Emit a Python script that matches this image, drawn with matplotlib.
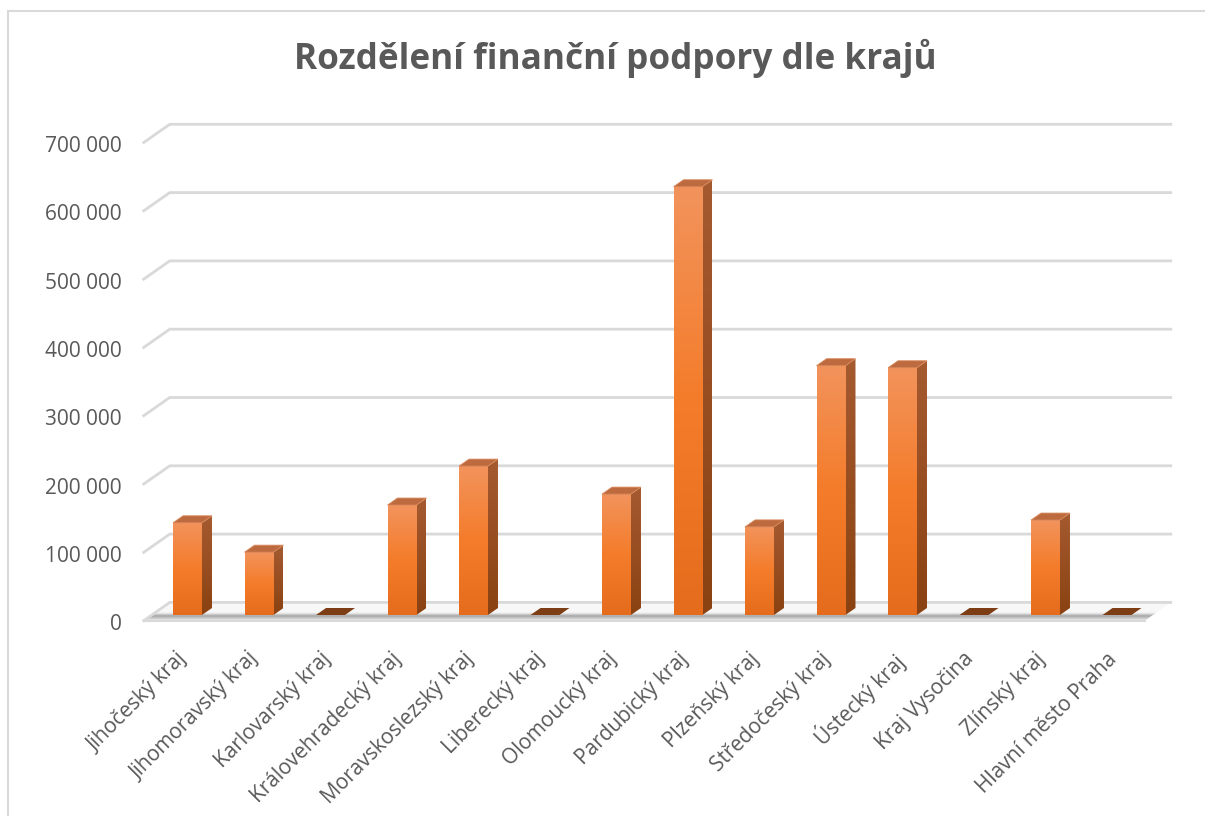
import numpy as np
import matplotlib.pyplot as plt
from matplotlib.patches import Polygon, Rectangle
from matplotlib.colors import LinearSegmentedColormap

regions = ["Jihočeský kraj", "Jihomoravský kraj", "Karlovarský kraj",
           "Královehradecký kraj", "Moravskoslezský kraj", "Liberecký kraj",
           "Olomoucký kraj", "Pardubický kraj", "Plzeňský kraj",
           "Středočeský kraj", "Ústecký kraj", "Kraj Vysočina",
           "Zlínský kraj", "Hlavní město Praha"]
support = [135000, 92000, 0, 161000, 218000, 0, 177000, 627000,
           129000, 365000, 362000, 0, 139000, 0]
y_ticks = [0, 100000, 200000, 300000, 400000, 500000, 600000, 700000]
title = "Rozdělení finanční podpory dle krajů"

W, H = 1205, 816
fig = plt.figure(figsize=(W / 100, H / 100), dpi=100)

# pixel <-> data scale (bar front plane)
PX_X = 71.5           # px per category
PX_Y = 68.3 / 100000  # px per unit value
dx = 1 / PX_X
dy = 1 / PX_Y
xlim = (-1.2, 14.0)
ylim = (-40000, 740000)
x0_px = 187.5 + xlim[0] * PX_X
zero_px = H - 615
ax = fig.add_axes([x0_px / W, (zero_px + ylim[0] * PX_Y) / H,
                   (xlim[1] - xlim[0]) * PX_X / W, (ylim[1] - ylim[0]) * PX_Y / H])
ax.set_axis_off()


def shift(x, y, depth):
    # move a point back into the chart depth (depth in px)
    return x + depth * dx, y + depth * 0.7 * dy


x_left, x_right = -0.5, 13.5
grid_c = "#d9d9d9"

# floor
floor = [shift(x_left, 0, -8), shift(x_right, 0, -8), shift(x_right, 0, 18), shift(x_left, 0, 18)]
ax.add_patch(Polygon(floor, closed=True, fc="#f7f7f7", ec="none", zorder=1))
shades = ["#e6e6e6", "#d0d0d0", "#b8b8b8", "#a8a8a8", "#b0b0b0", "#c8c8c8", "#e0e0e0"]
for k, c in enumerate(shades):
    d0, d1 = -8 + k * 1.6, -8 + (k + 1) * 1.6
    band = [shift(x_left, 0, d0), shift(x_right, 0, d0), shift(x_right, 0, d1), shift(x_left, 0, d1)]
    ax.add_patch(Polygon(band, closed=True, fc=c, ec="none", zorder=1.1))
fx = [shift(x_left, 0, -8)[0], shift(x_right, 0, -8)[0]]
fy = shift(x_left, 0, -8)[1]
ax.plot(fx, [fy, fy], color=grid_c, lw=1.5, zorder=1.2)

# gridlines on left and back wall
for v in y_ticks:
    pts = [shift(x_left, v, -8), shift(x_left, v, 18), shift(x_right, v, 18)]
    ax.plot([p[0] for p in pts], [p[1] for p in pts], color=grid_c, lw=2, zorder=1.5,
            solid_joinstyle="miter")
    lx, ly = shift(x_left, v, -8)
    ax.text(lx - 22 * dx, ly - 4 * dy, f"{v:,}".replace(",", " "), ha="right", va="center",
            fontsize=15, color="#595959", family="Open Sans")

# bars
bw = 0.405
bd = 10
front_cmap = LinearSegmentedColormap.from_list("front", ["#e56c1c", "#f47c2a", "#f2935c"])
side_cmap = LinearSegmentedColormap.from_list("side", ["#8a4212", "#a55a30"])
grad = np.linspace(0, 1, 200).reshape(-1, 1)
for i, v in enumerate(support):
    xa, xb = i - bw / 2, i + bw / 2
    if v > 0:
        ax.imshow(grad, extent=[xa, xb, 0, v], origin="lower", cmap=front_cmap,
                  aspect="auto", zorder=3, interpolation="bilinear")
        side = [(xb, 0), (xb, v), shift(xb, v, bd), shift(xb, 0, bd)]
        sp = Polygon(side, closed=True, fc="none", ec="none", zorder=2.9)
        ax.add_patch(sp)
        sx0, sx1 = xb, shift(xb, 0, bd)[0]
        im = ax.imshow(grad, extent=[sx0, sx1, 0, shift(xb, v, bd)[1]], origin="lower",
                       cmap=side_cmap, aspect="auto", zorder=2.9, interpolation="bilinear")
        im.set_clip_path(sp)
        top = [(xa, v), (xb, v), shift(xb, v, bd), shift(xa, v, bd)]
        ax.add_patch(Polygon(top, closed=True, fc="#bd6a3e", ec="#d98a5e", lw=0.6, zorder=3.1))
    else:
        top = [(xa, 0), (xb, 0), shift(xb, 0, bd), shift(xa, 0, bd)]
        ax.add_patch(Polygon(top, closed=True, fc="#7d3e16", ec="none", zorder=3.1))

    lx, ly = shift(i - 0.04, 0, -8)
    ax.text(lx, ly - 28 * dy, regions[i], rotation=45, rotation_mode="anchor",
            ha="right", va="top", fontsize=15, color="#595959", family="Open Sans")

ax.set_xlim(*xlim)
ax.set_ylim(*ylim)

fig.text(615 / W, 1 - 58 / H, title, ha="center", va="center", fontsize=25.3,
         fontweight="bold", color="#595959", family="Open Sans")

fig.patches.append(Rectangle((8 / W, -0.1), 1.2, 1 - 11 / H + 0.1, transform=fig.transFigure,
                             fill=False, ec=grid_c, lw=1.5))

fig.savefig("out.png", dpi=100, facecolor="white")
